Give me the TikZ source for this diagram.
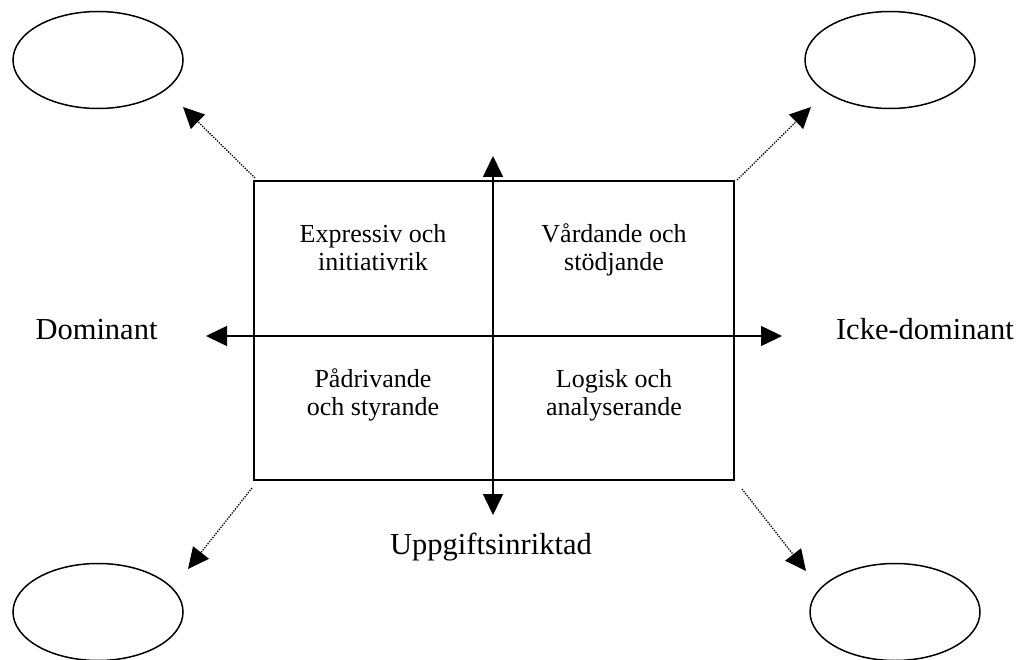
\documentclass[tikz,border=0pt]{standalone}
\usepackage{fontspec}
\setmainfont{Liberation Serif}
\usetikzlibrary{arrows.meta,shapes.geometric}
\tikzset{
  oval/.style={draw, ellipse, line width=1.5pt, minimum width=170pt, minimum height=97pt, inner sep=0pt},
  axis/.style={line width=1.5pt, {Triangle[length=21pt,width=20pt]}-{Triangle[length=21pt,width=20pt]}},
  dotarrow/.style={line width=1.3pt, dash pattern=on 1.3pt off 1.3pt, -{Triangle[length=21pt,width=20pt]}},
  inner/.style={font=\fontsize{26pt}{28pt}\selectfont, anchor=base, inner sep=0pt},
  outer/.style={font=\fontsize{30.5pt}{32pt}\selectfont, anchor=base, inner sep=0pt},
  frame/.style={draw, line width=1.5pt}
}
\begin{document}
\begin{tikzpicture}[x=1pt,y=-1pt]
\useasboundingbox[fill=white] (0,0) rectangle (1024,660);
% frame
\draw[frame] (254,181) rectangle (734,480);
\coordinate (tl) at (255,178);
\coordinate (tr) at (737,180);
\coordinate (bl) at (252,488);
\coordinate (br) at (742,489);
% ovals
\node[oval] (o1) at (98,60) {};
\node[oval] (o2) at (890,60) {};
\node[oval] (o3) at (98,612) {};
\node[oval] (o4) at (895,612) {};
% axes
\coordinate (hl) at (206,336);
\coordinate (hr) at (782,336);
\coordinate (vt) at (493,156);
\coordinate (vb) at (493,515);
\draw[axis] (hl) -- (hr);
\draw[axis] (vt) -- (vb);
% dotted arrows
\coordinate (e1) at (183,107);
\coordinate (e2) at (811,107);
\coordinate (e3) at (188,569);
\coordinate (e4) at (806,571);
\draw[dotarrow] (tl) -- (e1);
\draw[dotarrow] (tr) -- (e2);
\draw[dotarrow] (bl) -- (e3);
\draw[dotarrow] (br) -- (e4);
% quadrant texts
\node[inner] (q1a) at (373,242) {Expressiv och};
\node[inner] (q1b) at (373,270) {initiativrik};
\node[inner] (q2a) at (614,242) {Vårdande och};
\node[inner] (q2b) at (614,270) {stödjande};
\node[inner] (q3a) at (373,387) {Pådrivande};
\node[inner] (q3b) at (373,415) {och styrande};
\node[inner] (q4a) at (614,387) {Logisk och};
\node[inner] (q4b) at (614,415) {analyserande};
% outer labels
\node[outer] (dom) at (96.5,339) {Dominant};
\node[outer] (icke) at (925,339) {Icke-dominant};
\node[outer] (upp) at (491,554) {Uppgiftsinriktad};
\end{tikzpicture}
\end{document}
